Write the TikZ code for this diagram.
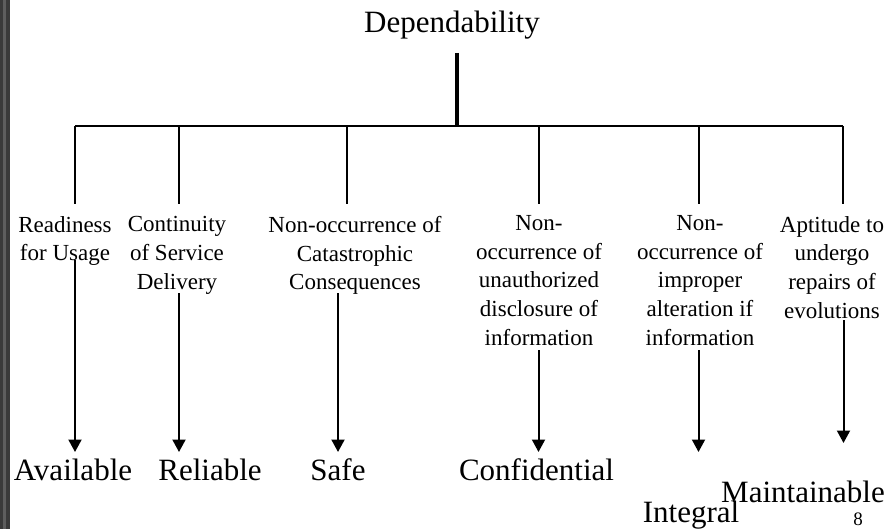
\documentclass[tikz,border=0pt]{standalone}
\usepackage{fontspec}
\setmainfont{Liberation Serif}
\usetikzlibrary{arrows.meta}
\definecolor{barcol}{HTML}{3A3A3A}
\definecolor{barlight}{HTML}{5E5E5E}
\begin{document}
\begin{tikzpicture}[x=1pt,y=-1pt,
  lbl/.style={font=\fontsize{23}{28.8}\selectfont, align=center, anchor=north, inner sep=0pt},
  word/.style={font=\fontsize{31}{37}\selectfont, anchor=base, inner sep=0pt},
  ln/.style={line width=2pt},
  thickln/.style={line width=4pt},
  arr/.style={line width=2pt, -{Triangle[width=13pt,length=12.5pt]}},
]
\useasboundingbox (0,0) rectangle (890,529);
\fill[white] (0,0) rectangle (890,529);
\fill[barcol] (0,0) rectangle (10,529);
\fill[barlight] (3,0) rectangle (6,529);

% root
\node[word] (dep) at (452,33) {Dependability};
\coordinate (top) at (457,53);
\coordinate (hub) at (457,126);
\draw[thickln] (top) -- (hub);

% horizontal bar and ticks
\foreach \i/\x in {1/75,2/179,3/347,4/539,5/699,6/843}{
  \coordinate (b\i) at (\x,126);
  \coordinate (t\i) at (\x,204);
}
\draw[ln] (b1) -- (b6);
\foreach \i in {1,...,6}{ \draw[ln] (b\i) -- (t\i); }

% labels
\node[lbl] (l1) at (65,216) {Readiness\\for Usage};
\node[lbl] (l2) at (177,216) {Continuity\\of Service\\Delivery};
\node[lbl] (l3) at (355,216) {Non-occurrence of\\Catastrophic\\Consequences};
\node[lbl] (l4) at (539,215) {Non-\\occurrence of\\unauthorized\\disclosure of\\information};
\node[lbl] (l5) at (700,215) {Non-\\occurrence of\\improper\\alteration if\\information};
\node[lbl] (l6) at (832,216) {Aptitude to\\undergo\\repairs of\\evolutions};

% result words
\node[word] (w1) at (73,480) {Available};
\node[word] (w2) at (210,480) {Reliable};
\node[word] (w3) at (338,480) {Safe};
\node[word] (w4) at (536.5,480) {Confidential};
\node[word] (w5) at (691,522) {Integral};
\node[word] (w6) at (803,502) {Maintainable};
\node[font=\fontsize{19}{22}\selectfont, anchor=base, inner sep=0pt] (pg) at (858,525) {8};

% arrows
\coordinate (s1) at (75,260);    \coordinate (e1) at (75,452);
\coordinate (s2) at (179,293);   \coordinate (e2) at (179,452);
\coordinate (s3) at (338,293);   \coordinate (e3) at (338,452);
\coordinate (s4) at (538.5,350); \coordinate (e4) at (538.5,452);
\coordinate (s5) at (698.5,350); \coordinate (e5) at (698.5,452);
\coordinate (s6) at (843.5,320); \coordinate (e6) at (843.5,443);
\foreach \i in {1,...,6}{ \draw[arr] (s\i) -- (e\i); }
\end{tikzpicture}
\end{document}
